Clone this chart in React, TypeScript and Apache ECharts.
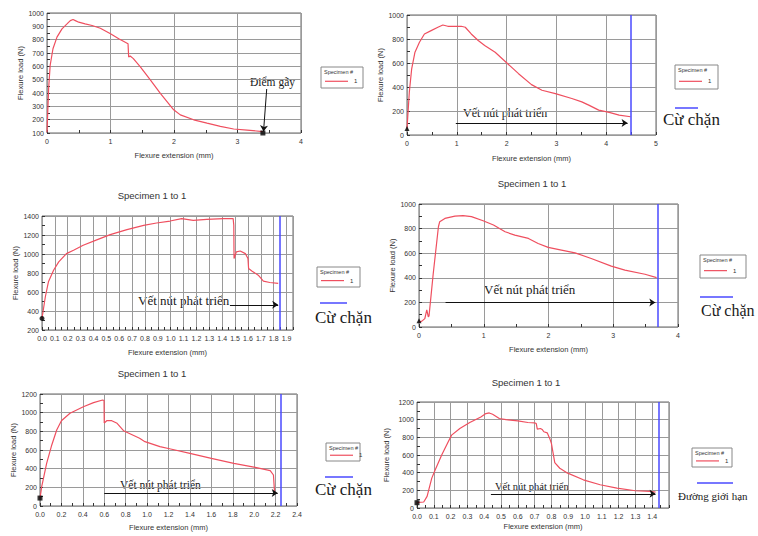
import React, { useEffect, useRef } from 'react';
import * as echarts from 'echarts';

// ---------- data ----------
const c1Ext = [0, 0.01, 0.026, 0.05, 0.094, 0.157, 0.236, 0.315, 0.367, 0.41, 0.446, 0.5, 0.6, 0.71, 0.84, 1.0, 1.13, 1.276, 1.286, 1.31, 1.36, 1.47, 1.63, 1.785, 1.995, 2.1, 2.31, 2.52, 2.73, 2.94, 3.15, 3.4];
const c1Load = [105, 236, 435, 608, 732, 819, 881, 918, 943, 951, 943, 931, 918, 906, 886, 844, 807, 770, 670, 678, 658, 596, 497, 398, 274, 236, 199, 174, 150, 130, 122, 110];

const c2Ext = [0, 0.013, 0.047, 0.094, 0.16, 0.25, 0.35, 0.485, 0.62, 0.72, 0.82, 0.92, 1.09, 1.17, 1.29, 1.43, 1.56, 1.77, 2.0, 2.24, 2.5, 2.71, 2.98, 3.31, 3.51, 3.65, 3.85, 4.06, 4.26, 4.49];
const c2Load = [55, 138, 359, 552, 690, 773, 842, 870, 898, 917, 906, 906, 906, 898, 842, 787, 746, 690, 602, 511, 420, 373, 345, 304, 276, 249, 207, 188, 166, 152];

const c3Ext = [0, 0.008, 0.026, 0.05, 0.09, 0.13, 0.19, 0.245, 0.32, 0.43, 0.53, 0.66, 0.79, 0.89, 0.995, 1.085, 1.175, 1.28, 1.41, 1.485, 1.49, 1.492, 1.51, 1.54, 1.58, 1.6, 1.605, 1.63, 1.68, 1.72, 1.77, 1.835];
const c3Load = [322, 392, 550, 707, 829, 917, 1004, 1039, 1092, 1151, 1204, 1256, 1302, 1326, 1347, 1372, 1354, 1364, 1372, 1372, 1302, 952, 1022, 1032, 1004, 952, 847, 822, 777, 714, 700, 690];

const c4Ext = [0, 0.04, 0.09, 0.12, 0.144, 0.155, 0.22, 0.3, 0.32, 0.4, 0.555, 0.68, 0.81, 0.99, 1.15, 1.33, 1.48, 1.69, 1.84, 1.995, 2.2, 2.41, 2.66, 2.97, 3.18, 3.49, 3.67];
const c4Load = [41, 46, 68, 140, 82, 90, 435, 815, 856, 883, 902, 905, 897, 864, 829, 774, 747, 720, 679, 647, 625, 603, 557, 495, 462, 429, 402];

const c5Ext = [0, 0.016, 0.062, 0.11, 0.156, 0.2, 0.28, 0.405, 0.5, 0.585, 0.598, 0.6, 0.623, 0.67, 0.72, 0.78, 0.93, 0.98, 1.12, 1.22, 1.4, 1.6, 1.81, 2.01, 2.15, 2.18, 2.19, 2.2];
const c5Load = [82, 207, 457, 654, 814, 914, 993, 1064, 1107, 1136, 1130, 890, 914, 914, 886, 807, 725, 689, 636, 611, 564, 511, 457, 414, 379, 332, 154, 140];

const c6Ext = [0, 0.01, 0.04, 0.06, 0.088, 0.108, 0.147, 0.186, 0.206, 0.255, 0.314, 0.38, 0.41, 0.43, 0.45, 0.49, 0.53, 0.6, 0.66, 0.7, 0.71, 0.716, 0.735, 0.745, 0.755, 0.775, 0.79, 0.8, 0.82, 0.85, 0.89, 0.99, 1.09, 1.19, 1.3, 1.39, 1.42];
const c6Load = [56, 64, 68, 131, 338, 431, 600, 750, 825, 900, 968, 1031, 1069, 1076, 1061, 1013, 1001, 986, 968, 964, 956, 893, 900, 889, 863, 851, 788, 731, 514, 450, 401, 319, 263, 225, 195, 188, 180];

// axis ranges: [xMin, xMax, xInterval, xDecimals] and [yMin, yMax, yInterval]
const xRanges = [[0, 4, 1, 0], [0, 5, 1, 0], [0, 1.95, 0.1, 1], [0, 4, 1, 0], [0, 2.4, 0.2, 1], [0, 1.5, 0.1, 1]];
const yRanges = [[100, 1000, 100], [0, 1000, 200], [200, 1400, 200], [0, 1000, 200], [0, 1200, 200], [0, 1200, 200]];

// blue stop lines (extension, mm)
const stopLines = [null, 4.5, 1.85, 3.68, 2.25, 1.44];
// crack arrows: [x1, y1, x2, y2]
const crackArrows = [[3.46, 430, 3.41, 112], [0.98, 100, 4.43, 100], [1.46, 465, 1.835, 465], [0.41, 200, 3.65, 200], [0.6, 140, 2.22, 140], [0.44, 160, 1.42, 160]];
// black start / break markers
const markerPoints = [[3.4, 100], [0, 55], [0, 322], [0, 50], [0, 85], [0, 60]];

const seriesExt = [c1Ext, c2Ext, c3Ext, c4Ext, c5Ext, c6Ext];
const seriesLoad = [c1Load, c2Load, c3Load, c4Load, c5Load, c6Load];

// ---------- layout ----------
const grids = [
  { left: 47, top: 13, width: 254, height: 120 },
  { left: 407, top: 15, width: 249, height: 120 },
  { left: 42, top: 216, width: 251, height: 114 },
  { left: 419, top: 204, width: 259, height: 123 },
  { left: 40, top: 394, width: 257, height: 112 },
  { left: 417, top: 402, width: 252, height: 106 },
];
const xNameGap = [18, 19, 18, 18, 17, 14];
const yNameGap = [23, 20, 23, 22, 23, 27];

const SANS = '"Liberation Sans", Arial, sans-serif';
const SERIF = '"Liberation Serif", "Times New Roman", serif';
const RED = '#ef4f5f';
const BLUE = '#4a4aff';

function legendBox(x: number, y: number, w: number, h: number) {
  return {
    type: 'group',
    children: [
      { type: 'rect', shape: { x, y, width: w, height: h }, style: { fill: '#fff', stroke: '#888', lineWidth: 1 } },
      { type: 'text', style: { x: x + 3, y: y + 5, text: 'Specimen #', font: `5.5px ${SANS}`, fill: '#333', verticalAlign: 'middle' } },
      { type: 'line', shape: { x1: x + 4, y1: y + h * 0.68, x2: x + 27, y2: y + h * 0.68 }, style: { stroke: RED, lineWidth: 1.2 } },
      { type: 'text', style: { x: x + 33, y: y + h * 0.68, text: '1', font: `6px ${SANS}`, fill: '#333', verticalAlign: 'middle' } },
    ],
  };
}

function serifText(x: number, y: number, text: string, size: number) {
  return { type: 'text', style: { x, y, text, font: `${size}px ${SERIF}`, fill: '#1a1a1a', verticalAlign: 'middle' } };
}

function blueKey(x1: number, x2: number, y: number) {
  return { type: 'line', shape: { x1, y1: y, x2, y2: y }, style: { stroke: BLUE, lineWidth: 1.5 } };
}

function titleText(x: number, y: number) {
  return { type: 'text', style: { x, y, text: 'Specimen 1 to 1', font: `9.5px ${SANS}`, fill: '#333', align: 'center', verticalAlign: 'middle' } };
}

export default function App() {
  const ref = useRef<HTMLDivElement>(null);
  useEffect(() => {
    if (!ref.current) return;
    const chart = echarts.init(ref.current, null, { renderer: 'svg' });

    const gridOpts = grids.map((g) => ({ ...g, show: true, borderColor: '#666', borderWidth: 1, backgroundColor: '#fff', containLabel: false }));

    const tickCommon = {
      axisLine: { show: false },
      axisTick: { show: true, inside: true, length: 3, lineStyle: { color: '#333' } },
      minorTick: { show: true, splitNumber: 2, length: 3, lineStyle: { color: '#333' } },
      splitLine: { show: true, lineStyle: { color: '#9a9a9a', width: 1 } },
    };

    const xAxes = xRanges.map((r, i) => ({
      type: 'value', gridIndex: i, min: r[0], max: r[1], interval: r[2],
      name: 'Flexure extension (mm)', nameLocation: 'middle', nameGap: xNameGap[i],
      nameTextStyle: { fontSize: 7.5, color: '#333', fontFamily: SANS },
      ...tickCommon,
      axisLabel: {
        fontSize: 7, color: '#333', fontFamily: SANS, margin: 5,
        showMaxLabel: i === 2 || i === 5 ? false : true,
        formatter: (v: number) => v.toFixed(r[3]),
      },
    }));

    const yAxes = yRanges.map((r, i) => ({
      type: 'value', gridIndex: i, min: r[0], max: r[1], interval: r[2],
      name: 'Flexure load (N)', nameLocation: 'middle', nameGap: yNameGap[i], nameRotate: 90,
      nameTextStyle: { fontSize: 7.5, color: '#333', fontFamily: SANS },
      ...tickCommon,
      axisLabel: { fontSize: 7, color: '#333', fontFamily: SANS, margin: 3, formatter: (v: number) => String(Math.round(v)) },
    }));

    const series: any[] = [];
    seriesExt.forEach((ext, i) => {
      const data = ext.map((x, k) => [x, seriesLoad[i][k]]);
      const lineSeries: any = {
        type: 'line', name: '1', xAxisIndex: i, yAxisIndex: i, data,
        showSymbol: false, symbol: 'none', smooth: false,
        lineStyle: { color: RED, width: 1.2 }, itemStyle: { color: RED },
        z: 3,
      };
      if (stopLines[i] !== null) {
        lineSeries.markLine = {
          silent: true, symbol: ['none', 'none'], label: { show: false },
          lineStyle: { color: BLUE, width: 1.5, type: 'solid' },
          data: [{ xAxis: stopLines[i] }],
        };
      }
      series.push(lineSeries);
      const a = crackArrows[i];
      series.push({
        type: 'scatter', xAxisIndex: i, yAxisIndex: i,
        data: [markerPoints[i]],
        symbol: i === 2 ? 'circle' : i === 0 || i >= 4 ? 'rect' : 'triangle',
        symbolSize: 5, itemStyle: { color: '#000' }, z: 5,
        markLine: {
          silent: true, symbol: ['none', 'arrow'], symbolSize: 6, label: { show: false },
          lineStyle: { color: '#111', width: 1, type: 'solid' },
          data: [[{ coord: [a[0], a[1]] }, { coord: [a[2], a[3]] }]],
        },
      });
    });

    const graphic: any[] = [
      titleText(152, 195), titleText(532, 183), titleText(152, 373), titleText(526, 382),
      legendBox(321, 67, 42, 21),
      legendBox(675, 65, 43, 24),
      legendBox(317, 267, 43, 20),
      legendBox(700, 255, 46, 23),
      legendBox(326, 443, 34, 18),
      legendBox(692, 448, 40, 19),
      blueKey(675, 698, 108), serifText(663, 119, 'Cừ chặn', 17),
      blueKey(320, 347, 303), serifText(315, 317, 'Cừ chặn', 17),
      blueKey(700, 733, 297), serifText(701, 310, 'Cừ chặn', 16),
      blueKey(325, 353, 477), serifText(315, 489, 'Cừ chặn', 17),
      blueKey(697, 733, 483), serifText(678, 496, 'Đường giới hạn', 11),
      serifText(250, 82, 'Điểm gãy', 11.5),
      serifText(463, 113, 'Vết nút phát triển', 12),
      serifText(138, 300, 'Vết nút phát triển', 13),
      serifText(484, 289, 'Vết nút phát triển', 13),
      serifText(120, 485, 'Vết nút phát triển', 11.5),
      serifText(495, 486, 'Vết nút phát triển', 10.5),
    ];

    chart.setOption({
      animation: false,
      backgroundColor: '#fff',
      grid: gridOpts,
      xAxis: xAxes,
      yAxis: yAxes,
      series,
      graphic,
    });
    return () => chart.dispose();
  }, []);
  return <div ref={ref} style={{ position: 'absolute', left: 0, top: 0, width: 758, height: 536, background: '#fff' }} />;
}
